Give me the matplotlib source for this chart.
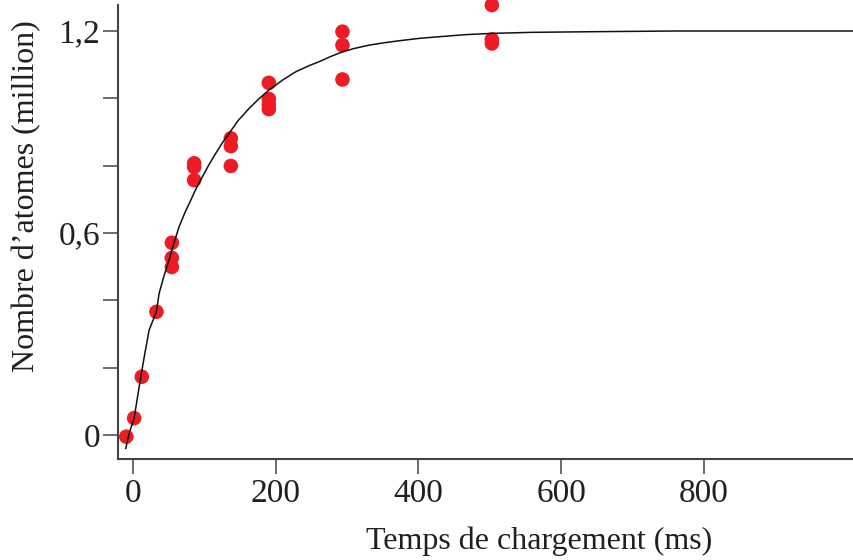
import matplotlib
matplotlib.use("Agg")
import matplotlib.pyplot as plt
from matplotlib.ticker import FixedLocator, MultipleLocator

# --- data ---
times = [-9, 2, 12.7, 33.2, 54.8, 54.8, 54.8,
         86, 86, 86, 137.4, 137.4, 137.4,
         190.6, 190.6, 190.6, 190.6, 293.7, 293.7, 293.7,
         502.9, 502.9, 502.9]
atoms = [-0.005, 0.050, 0.173, 0.366, 0.571, 0.526, 0.499,
         0.807, 0.796, 0.757, 0.881, 0.858, 0.799,
         1.046, 0.998, 0.982, 0.968, 1.198, 1.158, 1.056,
         1.277, 1.175, 1.163]

fit_t = [-9.7, -5.0, 2.0, 11.3, 17.4, 23.0, 33.2, 37.0, 44.0, 51.0, 58.0,
         65.0, 73.0, 81.4, 89.0, 97.6, 106.0, 116.4, 125.0, 135.0, 148.0,
         163.0, 177.0, 191.0, 209.7, 228.4, 247.0, 261.2, 277.0, 293.7,
         310.0, 331.1, 352.0, 373.1, 401.0, 429.1, 465.0, 503.8, 559.8,
         650.0, 762.0, 1010.0]
fit_n = [-0.040, 0.005, 0.050, 0.173, 0.247, 0.312, 0.366, 0.421, 0.474,
         0.520, 0.572, 0.619, 0.660, 0.698, 0.733, 0.767, 0.800, 0.837,
         0.866, 0.896, 0.935, 0.970, 0.999, 1.025, 1.054, 1.079, 1.097,
         1.109, 1.124, 1.138, 1.148, 1.158, 1.165, 1.171, 1.178, 1.183,
         1.189, 1.193, 1.196, 1.198, 1.200, 1.200]

x_ticks = [0, 200, 400, 600, 800]
x_labels = ["0", "200", "400", "600", "800"]
y_ticks = [0, 0.6, 1.2]
y_labels = ["0", "0,6", "1,2"]

text_col = "#231f20"
axis_col = "#444444"
red = "#ed1c24"

plt.rcParams['font.family'] = ['Liberation Serif', 'DejaVu Serif']

fig = plt.figure(figsize=(8.54, 5.60), dpi=100)
ax = fig.add_axes([118/854, 1 - 459/560, 736/854, 454/560])

ax.scatter(times, atoms, s=110, color=red, edgecolors='none', zorder=2, clip_on=False)
ax.plot(fit_t, fit_n, color="#111111", lw=1.1, zorder=3)

ax.set_xlim(-20.6, 1010)
ax.set_ylim(-0.0713, 1.2772)

for s in ['top', 'right']:
    ax.spines[s].set_visible(False)
for s in ['left', 'bottom']:
    ax.spines[s].set_color(axis_col)
    ax.spines[s].set_linewidth(1.5)

ax.xaxis.set_major_locator(FixedLocator(x_ticks))
ax.set_xticklabels(x_labels)
ax.yaxis.set_major_locator(FixedLocator(y_ticks))
ax.set_yticklabels(y_labels)
ax.yaxis.set_minor_locator(MultipleLocator(0.2))

ax.tick_params(axis='both', which='both', direction='out', length=11,
               width=1.1, color=axis_col, labelsize=24, labelcolor=text_col)
ax.tick_params(axis='x', pad=3)
ax.tick_params(axis='y', pad=2)

ax.set_xlabel("Temps de chargement (ms)", fontsize=23, color=text_col)
ax.xaxis.set_label_coords(0.572, -0.148)
ax.xaxis.label.set_va('top')

ax.set_ylabel("Nombre d’atomes (million)", fontsize=23, color=text_col)
ax.yaxis.set_label_coords(-0.124, 0.579)
ax.yaxis.label.set_va('center')

fig.savefig("out.png", dpi=100)
